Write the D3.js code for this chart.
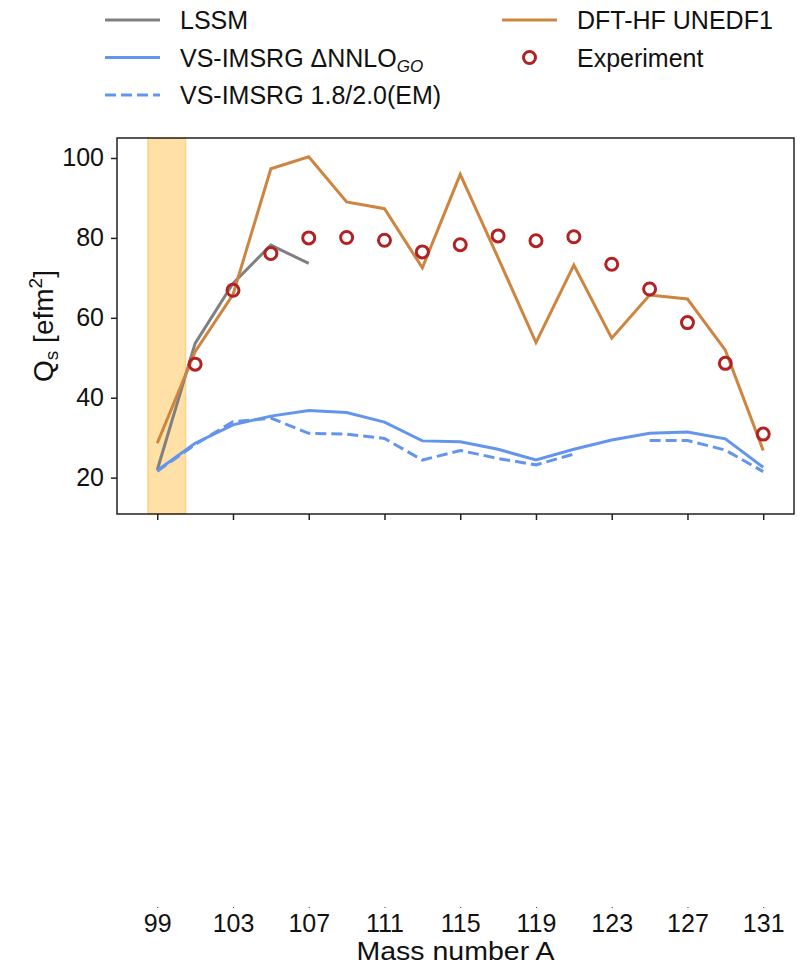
<!DOCTYPE html>
<html>
<head>
<meta charset="utf-8">
<script src="https://cdn.jsdelivr.net/npm/d3@7"></script>
<style>
  html, body { margin: 0; padding: 0; background: #fff; }
  svg { display: block; font-family: "Liberation Sans", Arial, sans-serif; }
</style>
</head>
<body>
<svg id="chart" width="805" height="966"></svg>
<script>
// Mass numbers (odd A) for every series
const massNumbers = [99, 101, 103, 105, 107, 109, 111, 113, 115, 117, 119, 121, 123, 125, 127, 129, 131];

// Spectroscopic quadrupole moments Q_s [e fm^2]
const lssm      = [21.9, 53.6, 68.6, 78.2, 73.6, null, null, null, null, null, null, null, null, null, null, null, null];
const dftHf     = [28.6, 51.5, 65.8, 97.3, 100.3, 89.0, 87.3, 72.5, 95.9, 75.0, 53.8, 73.2, 54.9, 65.7, 64.7, 51.9, 26.8];
const imsrgGO   = [21.8, 28.6, 33.2, 35.4, 36.8, 36.3, 33.9, 29.2, 29.0, 27.1, 24.4, 27.1, 29.4, 31.1, 31.4, 29.7, 22.6];
const imsrgEM   = [21.6, 28.3, 34.0, 34.9, 31.1, 30.9, 29.8, 24.4, 26.8, 24.8, 23.2, 25.9, null, 29.3, 29.3, 26.9, 21.5];
const experiment = [null, 48.4, 66.9, 76.1, 80.0, 80.1, 79.4, 76.5, 78.3, 80.5, 79.3, 80.3, 73.4, 67.2, 58.8, 48.6, 30.9];

// Highlighted band in A
const bandRange = [98.5, 100.5];

const xTicks = [99, 103, 107, 111, 115, 119, 123, 127, 131];
const yTicks = [20, 40, 60, 80, 100];

const xDomain = [96.875, 132.625];
const yDomain = [10.9, 105];

const colors = {
  lssm: "#808080",
  dft: "#CD853F",
  imsrg: "#6495ED",
  exp: "#B22222",
  band: "#FFA500"
};

const svg = d3.select("#chart");

const plot = { left: 117, right: 794, top: 138, bottom: 514 };
const x = d3.scaleLinear().domain(xDomain).range([plot.left, plot.right]);
const y = d3.scaleLinear().domain(yDomain).range([plot.bottom, plot.top]);

// Shaded band
svg.append("rect")
  .attr("x", x(bandRange[0]))
  .attr("y", plot.top)
  .attr("width", x(bandRange[1]) - x(bandRange[0]))
  .attr("height", plot.bottom - plot.top)
  .attr("fill", colors.band)
  .attr("fill-opacity", 0.35)
  .attr("stroke", colors.band)
  .attr("stroke-opacity", 0.35)
  .attr("stroke-width", 1.5);

const toPoints = vals => massNumbers.map((a, i) => ({ a, v: vals[i] }));

const line = d3.line()
  .defined(d => d.v !== null)
  .x(d => x(d.a))
  .y(d => y(d.v));

const series = [
  { vals: lssm, color: colors.lssm, dash: null },
  { vals: dftHf, color: colors.dft, dash: null },
  { vals: imsrgGO, color: colors.imsrg, dash: null },
  { vals: imsrgEM, color: colors.imsrg, dash: "11,5" }
];

const gLines = svg.append("g");
series.forEach(s => {
  gLines.append("path")
    .datum(toPoints(s.vals))
    .attr("d", line)
    .attr("fill", "none")
    .attr("stroke", s.color)
    .attr("stroke-width", 3)
    .attr("stroke-linejoin", "miter")
    .attr("stroke-dasharray", s.dash);
});

// Experimental points
svg.append("g")
  .selectAll("circle")
  .data(toPoints(experiment).filter(d => d.v !== null))
  .join("circle")
  .attr("cx", d => x(d.a))
  .attr("cy", d => y(d.v))
  .attr("r", 6)
  .attr("fill", "none")
  .attr("stroke", colors.exp)
  .attr("stroke-width", 3);

// Frame
svg.append("rect")
  .attr("x", plot.left)
  .attr("y", plot.top)
  .attr("width", plot.right - plot.left)
  .attr("height", plot.bottom - plot.top)
  .attr("fill", "none")
  .attr("stroke", "#222")
  .attr("stroke-width", 1.5);

// Axes on the main panel
const yAxis = svg.append("g")
  .attr("transform", `translate(${plot.left},0)`)
  .call(d3.axisLeft(y).tickValues(yTicks).tickSize(6).tickPadding(7));
const xAxisTop = svg.append("g")
  .attr("transform", `translate(0,${plot.bottom})`)
  .call(d3.axisBottom(x).tickValues(xTicks).tickSize(6).tickFormat(""));

[yAxis, xAxisTop].forEach(g => {
  g.select(".domain").remove();
  g.selectAll(".tick line").attr("stroke", "#222").attr("stroke-width", 1.5);
});
yAxis.selectAll(".tick text")
  .attr("font-size", 25)
  .attr("fill", "#111")
  .attr("font-family", "Liberation Sans, Arial, sans-serif");

// Lower axis carrying the mass-number labels
const xAxisBottom = svg.append("g")
  .attr("transform", "translate(0,907)")
  .call(d3.axisBottom(x).tickValues(xTicks).tickSize(1).tickPadding(6));
xAxisBottom.select(".domain").remove();
xAxisBottom.selectAll(".tick line").attr("stroke", "#333").attr("stroke-width", 1);
xAxisBottom.selectAll(".tick text")
  .attr("font-size", 25)
  .attr("fill", "#111")
  .attr("dy", null)
  .attr("y", 25)
  .attr("font-family", "Liberation Sans, Arial, sans-serif");

// Axis titles
svg.append("text")
  .attr("x", (plot.left + plot.right) / 2)
  .attr("y", 960)
  .attr("text-anchor", "middle")
  .attr("font-size", 25)
  .attr("textLength", 198)
  .attr("lengthAdjust", "spacingAndGlyphs")
  .attr("fill", "#111")
  .text("Mass number A");

const yTitle = svg.append("text")
  .attr("transform", `translate(53,${(plot.top + plot.bottom) / 2}) rotate(-90)`)
  .attr("text-anchor", "middle")
  .attr("font-size", 28)
  .attr("fill", "#111");
yTitle.append("tspan").text("Q");
yTitle.append("tspan").attr("font-size", 19).attr("dy", 5).text("s");
yTitle.append("tspan").attr("dy", -5).text(" [efm");
yTitle.append("tspan").attr("font-size", 19).attr("dy", -11).text("2");
yTitle.append("tspan").attr("dy", 11).text("]");

// Legend
const legendItems = [
  { col: 0, row: 0, type: "line", color: colors.lssm, dash: null, label: [["LSSM"]] },
  { col: 0, row: 1, type: "line", color: colors.imsrg, dash: null, label: [["VS-IMSRG ΔNNLO"], ["GO", "sub"]] },
  { col: 0, row: 2, type: "line", color: colors.imsrg, dash: "11,5", label: [["VS-IMSRG 1.8/2.0(EM)"]] },
  { col: 1, row: 0, type: "line", color: colors.dft, dash: null, label: [["DFT-HF UNEDF1"]] },
  { col: 1, row: 1, type: "marker", color: colors.exp, dash: null, label: [["Experiment"]] }
];
const legendCols = [105, 502];
const legendRows = [20, 57.5, 95];

const legend = svg.append("g");
legendItems.forEach(it => {
  const g = legend.append("g")
    .attr("transform", `translate(${legendCols[it.col]},${legendRows[it.row]})`);
  if (it.type === "line") {
    g.append("line")
      .attr("x1", 0).attr("x2", 55)
      .attr("y1", 0).attr("y2", 0)
      .attr("stroke", it.color)
      .attr("stroke-width", 3)
      .attr("stroke-dasharray", it.dash);
  } else {
    g.append("circle")
      .attr("cx", 27.5).attr("cy", 0).attr("r", 6)
      .attr("fill", "none")
      .attr("stroke", it.color)
      .attr("stroke-width", 3);
  }
  const t = g.append("text")
    .attr("x", 75)
    .attr("y", 9)
    .attr("font-size", 25)
    .attr("fill", "#111");
  it.label.forEach(part => {
    const ts = t.append("tspan").text(part[0]);
    if (part[1] === "sub") {
      ts.attr("font-size", 17).attr("font-style", "italic").attr("dy", 5);
    }
  });
});
</script>
</body>
</html>
